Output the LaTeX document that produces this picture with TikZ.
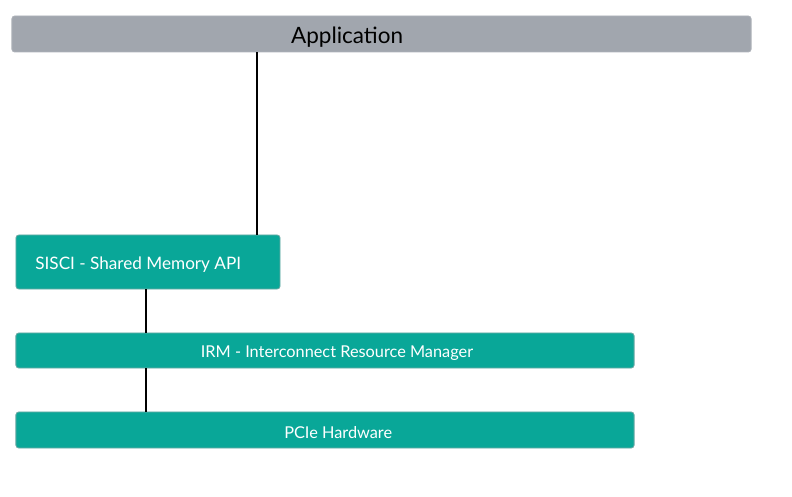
\documentclass[tikz,border=0pt]{standalone}
\usepackage{fontspec}
\setmainfont{Lato}
\usepackage{tikz}
\usetikzlibrary{positioning,calc}
\usepackage{xcolor}
\definecolor{appgray}{RGB}{161,166,174}
\definecolor{layerteal}{RGB}{9,167,152}
\definecolor{tealedge}{RGB}{110,170,165}

\begin{document}
\begin{tikzpicture}[
    x=0.025cm, y=-0.025cm,
    layer/.style={
        rectangle, rounded corners=2pt, draw=tealedge, line width=0.6pt,
        fill=layerteal
    },
    appbox/.style={
        rectangle, rounded corners=2pt, draw=appgray!85!white, line width=0.6pt,
        fill=appgray
    },
    layertext/.style={text=white, font=\fontsize{11.6}{14}\selectfont, yshift=-0.07cm},
    link/.style={line width=1pt, black}
]
\useasboundingbox (0,0) rectangle (792,497);

% Application on top
\node[appbox, minimum width=18.475cm, minimum height=0.9cm,
      label={[font=\fontsize{16}{19}\selectfont, xshift=-0.86cm, yshift=-0.07cm]center:Application}] (app) at (381.5, 34) {};

% Software and hardware layers
\node[layer, minimum width=6.6cm, minimum height=1.35cm,
      label={[layertext, font=\fontsize{12.2}{15}\selectfont, anchor=west, xshift=0.37cm]west:SISCI - Shared Memory API}] (sisci) at (148, 262) {};
\node[layer, minimum width=15.45cm, minimum height=0.875cm,
      label={[layertext, xshift=0.3cm]center:IRM - Interconnect Resource Manager}] (irm) at (325, 350.5) {};
\node[layer, minimum width=15.45cm, minimum height=0.9cm,
      label={[layertext, xshift=0.33cm]center:PCIe Hardware}] (pcie) at (325, 430) {};

% Connections
\draw[link] (app.south -| 257,0) -- (sisci.north -| 257,0);
\draw[link] (sisci.south -| 146,0) -- (irm.north -| 146,0);
\draw[link] (irm.south -| 146,0) -- (pcie.north -| 146,0);

\end{tikzpicture}
\end{document}
